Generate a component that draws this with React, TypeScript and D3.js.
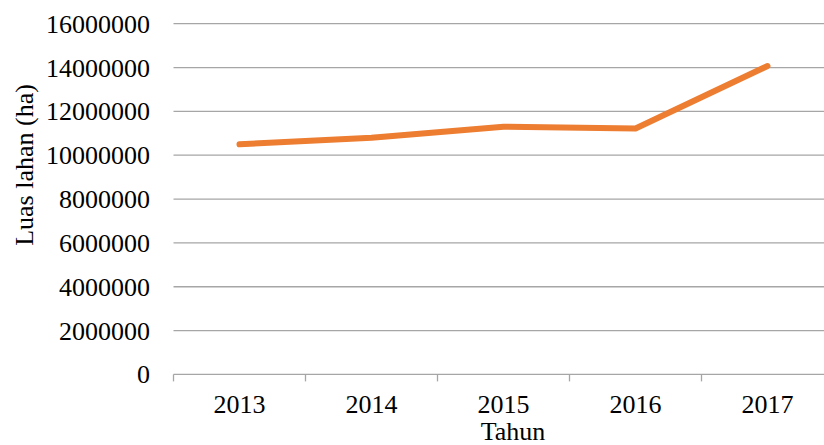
import React from "react";
import * as d3 from "d3";

const years = ["2013", "2014", "2015", "2016", "2017"];
const luas = [10500000, 10800000, 11300000, 11220000, 14070000];
const yTicks = [0, 2000000, 4000000, 6000000, 8000000, 10000000, 12000000, 14000000, 16000000];

const W = 824;
const H = 445;
const left = 173.5;
const right = 833.5;
const top = 23.7;
const bottom = 374.4;
const font = '"Liberation Serif", "Times New Roman", Times, "DejaVu Serif", serif';
const ts: React.CSSProperties = { fontFamily: font, fontSize: "26px" };

export default function App() {
  const x = d3.scaleBand<string>().domain(years).range([left, right]);
  const y = d3.scaleLinear().domain([0, 16000000]).range([bottom, top]);
  const line = d3
    .line<number>()
    .x((_, i) => (x(years[i]) as number) + x.bandwidth() / 2)
    .y((d) => y(d));
  const tickXs = years.map((yr) => x(yr) as number).concat([right]);

  return (
    <svg
      width={W}
      height={H}
      style={{ position: "absolute", left: 0, top: 0, background: "#fff" }}
    >
      {yTicks.slice(1).map((t) => (
        <line key={t} x1={left} x2={W} y1={y(t)} y2={y(t)} stroke="#a6a6a6" strokeWidth={1.3} />
      ))}
      <line x1={left} x2={W} y1={bottom} y2={bottom} stroke="#a6a6a6" strokeWidth={1.3} />
      {tickXs.map((tx, i) => (
        <line key={i} x1={tx} x2={tx} y1={bottom} y2={bottom + 7} stroke="#a6a6a6" strokeWidth={1.3} />
      ))}
      {yTicks.map((t) => (
        <text key={t} x={150} y={y(t) + 9} textAnchor="end" style={ts} fill="#000">
          {t}
        </text>
      ))}
      {years.map((yr) => (
        <text
          key={yr}
          x={(x(yr) as number) + x.bandwidth() / 2}
          y={413}
          textAnchor="middle"
          style={ts}
          fill="#000"
        >
          {yr}
        </text>
      ))}
      <path
        d={line(luas) as string}
        fill="none"
        stroke="#ED7D31"
        strokeWidth={6}
        strokeLinecap="round"
        strokeLinejoin="round"
      />
      <text x={513} y={440} textAnchor="middle" style={ts} fill="#000">
        Tahun
      </text>
      <text
        transform={`translate(33,165) rotate(-90)`}
        textAnchor="middle"
        style={ts}
        fill="#000"
      >
        Luas lahan (ha)
      </text>
    </svg>
  );
}
